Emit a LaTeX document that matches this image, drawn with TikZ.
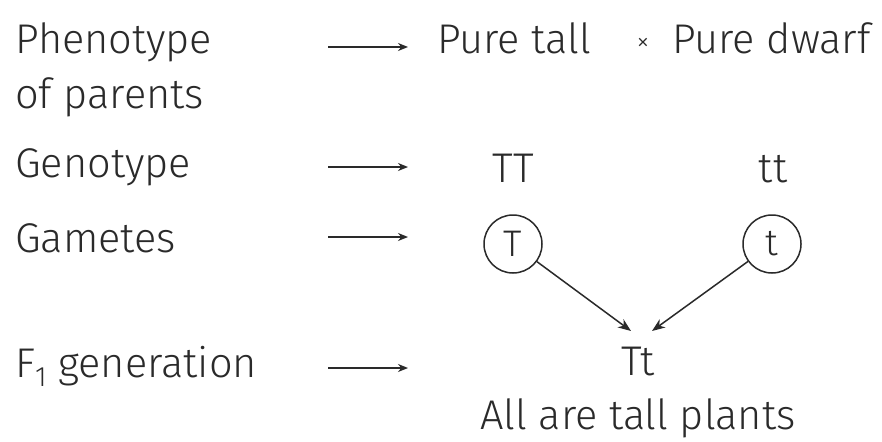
\documentclass[tikz,border=0pt]{standalone}
\usepackage{fontspec}
\setmainfont{Fira Sans}[UprightFont=* Light]
\usetikzlibrary{arrows.meta}
\definecolor{ink}{HTML}{2A2A2A}
\begin{document}
\begin{tikzpicture}[x=1pt,y=-1pt,
  txt/.style={anchor=base west,inner sep=0pt,text=ink,font=\fontsize{41.5}{46}\selectfont},
  ctxt/.style={anchor=base,inner sep=0pt,text=ink,font=\fontsize{41.5}{46}\selectfont},
  rowarrow/.style={draw=ink,line width=1.6pt,-{Stealth[length=10pt,width=8pt]}},
  gamete/.style={circle,draw=ink,line width=1.5pt,minimum size=58pt,inner sep=0pt,text=ink,font=\fontsize{37}{40}\selectfont},
  cross/.style={draw=ink,line width=1.5pt,-{Stealth[length=13pt,width=10pt,inset=4pt]}}]
\useasboundingbox (0,0) rectangle (882,441);
\fill[white] (0,0) rectangle (882,441);
% left labels
\node[txt] (l1) at (15,54) {Phenotype};
\node[txt] (l1b) at (15,108) {of parents};
\node[txt] (l2) at (15,177) {Genotype};
\node[txt] (l3) at (15,252) {Gametes};
\node[txt] (l4) at (15,377) {F\raisebox{-0.45ex}{\fontsize{28}{30}\selectfont 1} generation};
% row arrows
\coordinate (a1s) at (328,47); \coordinate (a1e) at (408,47);
\coordinate (a2s) at (328,167); \coordinate (a2e) at (408,167);
\coordinate (a3s) at (328,237); \coordinate (a3e) at (408,237);
\coordinate (a4s) at (328,368); \coordinate (a4e) at (408,368);
\draw[rowarrow] (a1s) -- (a1e);
\draw[rowarrow] (a2s) -- (a2e);
\draw[rowarrow] (a3s) -- (a3e);
\draw[rowarrow] (a4s) -- (a4e);
% parents
\node[txt] (pt) at (437,54) {Pure tall};
\node[ctxt,font=\fontsize{26}{28}\selectfont] (x) at (643,51) {×};
\node[txt] (pd) at (672,54) {Pure dwarf};
\node[ctxt] (TT) at (513,182) {TT};
\node[ctxt] (tt) at (773,182) {tt};
\node[gamete] (gT) at (513,244) {T};
\node[gamete] (gt) at (772,244) {t};
\coordinate (e1) at (631,331);
\coordinate (e2) at (652,331);
\draw[cross] (gT) -- (e1);
\draw[cross] (gt) -- (e2);
\node[ctxt] (Tt) at (638,375) {Tt};
\node[txt] (all) at (480,429) {All are tall plants};
\end{tikzpicture}
\end{document}
